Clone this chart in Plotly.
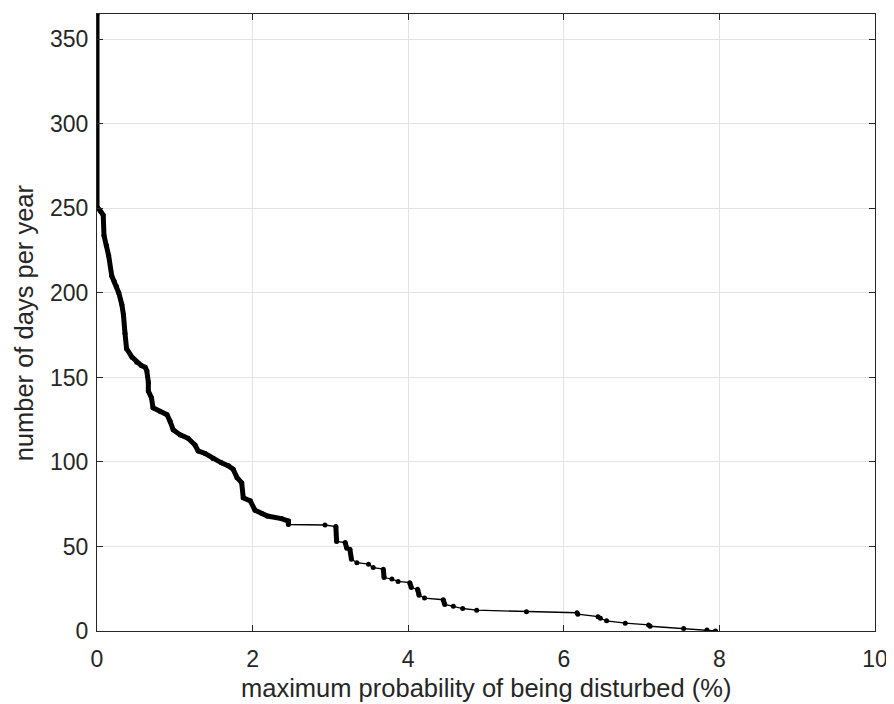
import plotly.graph_objects as go

# Vertices of the curve
prob_pct = [0, 0, 0.05, 0.08, 0.09, 0.12, 0.15, 0.19, 0.22, 0.25, 0.28, 0.32, 0.34, 0.36, 0.38,
            0.45, 0.51, 0.57, 0.62, 0.64, 0.66, 0.66, 0.70, 0.72, 0.81, 0.90, 0.94, 0.98, 1.07,
            1.17, 1.26, 1.30, 1.39, 1.49, 1.60, 1.69, 1.75, 1.80, 1.86, 1.88, 1.97, 2.03, 2.12,
            2.19, 2.37, 2.46, 2.46, 2.93, 3.07, 3.08, 3.19, 3.21, 3.25, 3.27, 3.34, 3.49, 3.55,
            3.68, 3.69, 3.79, 3.87, 4.02, 4.04, 4.12, 4.14, 4.21, 4.45, 4.47, 4.58, 4.70, 4.88,
            5.52, 6.17, 6.18, 6.44, 6.47, 6.55, 6.79, 7.09, 7.11, 7.54, 7.84, 7.95]
days = [365, 251, 248, 246, 234, 228, 222, 210, 207, 204, 200, 193, 187, 176, 167,
        162, 159, 157, 156, 154, 147, 142, 138, 132, 130, 128, 124, 119, 116,
        114, 110, 106.5, 105, 102, 99.5, 97.7, 95.7, 90.7, 87.6, 78.8, 77, 71.5, 69.5,
        68, 66.5, 65, 63, 62.7, 61.8, 53, 52.3, 49, 48.4, 42.5, 40.4, 39.5, 37.5,
        36.6, 31.6, 30.7, 29.3, 28.6, 25.7, 24.7, 21.2, 19.5, 18.5, 15.7, 14.6, 13.3, 12.3,
        11.4, 10.8, 9.9, 8.5, 7.5, 6.0, 4.6, 3.6, 2.8, 1.5, 0.6, 0]

x_ticks = [0, 2, 4, 6, 8, 10]
y_ticks = [0, 50, 100, 150, 200, 250, 300, 350]

x_title = "maximum probability of being disturbed (%)"
y_title = "number of days per year"

DENSE_END = 46  # index up to which points are densely packed (drawn thick)
INK = "#262626"

fig = go.Figure()

# thick part: dense region and steep drops
tx, ty = list(prob_pct[:DENSE_END + 1]), list(days[:DENSE_END + 1])
for i in range(DENSE_END, len(prob_pct) - 1):
    dx = prob_pct[i + 1] - prob_pct[i]
    dy = days[i] - days[i + 1]
    if dx < 0.05 and dy > 1.5:
        tx += [None, prob_pct[i], prob_pct[i + 1]]
        ty += [None, days[i], days[i + 1]]
fig.add_trace(go.Scatter(x=tx, y=ty, mode="lines",
                         line=dict(color="black", width=5),
                         hoverinfo="skip", showlegend=False))
# thin connecting line with dot markers
fig.add_trace(go.Scatter(x=prob_pct, y=days, mode="lines+markers",
                         line=dict(color="black", width=1.3),
                         marker=dict(color="black", size=5),
                         showlegend=False))

axis_common = dict(showline=True, linecolor=INK, linewidth=1, mirror="ticks",
                   ticks="inside", ticklen=6, tickcolor=INK,
                   showgrid=True, gridcolor="#e3e3e3", gridwidth=1,
                   zeroline=False, automargin=False,
                   tickfont=dict(size=23, color=INK))

fig.update_xaxes(range=[0, 10], tickvals=x_ticks, ticktext=[str(v) for v in x_ticks],
                 ticklabelstandoff=7, **axis_common)
fig.update_yaxes(range=[0, 365], tickvals=y_ticks, ticktext=[str(v) for v in y_ticks],
                 ticklabelstandoff=3, **axis_common)

fig.add_annotation(text=x_title, xref="paper", yref="paper", x=0.5, y=-0.092,
                   xanchor="center", yanchor="middle", showarrow=False,
                   font=dict(size=25.5, color=INK))
fig.add_annotation(text=y_title, xref="paper", yref="paper", x=-0.094, y=0.5,
                   xanchor="center", yanchor="middle", textangle=-90, showarrow=False,
                   font=dict(size=25.5, color=INK))

# the page body adds an 8px offset, so the figure is sized to fit the window
fig.update_layout(width=886, height=696,
                  margin=dict(l=89, r=19, t=6, b=73),
                  paper_bgcolor="white", plot_bgcolor="white",
                  font=dict(family="Liberation Sans, Arial, sans-serif", color=INK))

fig.write_html("out.html")
